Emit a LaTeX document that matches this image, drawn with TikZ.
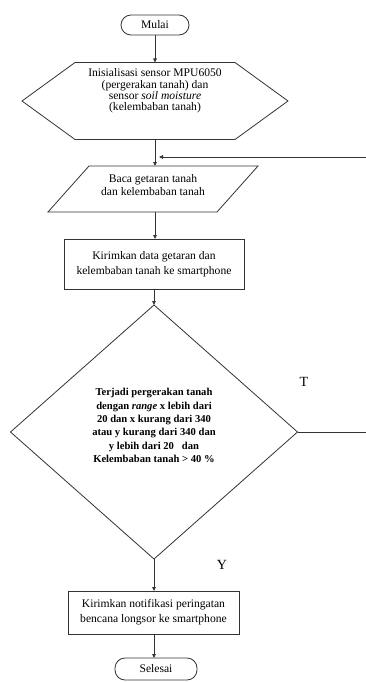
\documentclass[tikz,border=0pt]{standalone}
\usepackage{fontspec}
\setmainfont{Liberation Serif}
\usetikzlibrary{arrows.meta}
\begin{document}
\begin{tikzpicture}[x=1pt,y=-1pt,
  line/.style={draw=black!80, line width=0.8pt},
  arr/.style={line, -{Triangle[length=4pt,width=3.5pt]}},
  holder/.style={inner sep=0pt, outer sep=0pt},
  txt/.style={align=center, inner sep=0pt, font=\fontsize{11.6}{13}\selectfont},
  term/.style={line, rounded corners=10pt, inner sep=0pt, outer sep=0pt, align=center, font=\fontsize{11.6}{13}\selectfont},
  procbox/.style={line, inner sep=0pt, outer sep=0pt, align=center, font=\fontsize{11.6}{15}\selectfont},
  lbl/.style={font=\fontsize{14}{16}\selectfont, inner sep=0pt}
]
\useasboundingbox[fill=white] (0,0) rectangle (366,682);

% terminal start
\node[term, minimum width=68pt, minimum height=20pt] (start) at (155,25) {Mulai};

% hexagon (preparation)
\node[holder, minimum width=266pt, minimum height=77pt] (hex) at (155,101) {};
\draw[line] ([xshift=53pt]hex.north west) -- ([xshift=-53pt]hex.north east) -- (hex.east)
  -- ([xshift=-53pt]hex.south east) -- ([xshift=53pt]hex.south west) -- (hex.west) -- cycle;
\node[txt, font=\fontsize{11.6}{11.2}\selectfont] (hextxt) at (155,91)
  {Inisialisasi sensor MPU6050\\(pergerakan tanah) dan\\sensor \textit{soil moisture}\\(kelembaban tanah)};

% parallelogram (input)
\node[holder, minimum width=210pt, minimum height=46pt] (par) at (153,189) {};
\draw[line] ([xshift=41pt]par.north west) -- (par.north east) -- ([xshift=-41pt]par.south east)
  -- (par.south west) -- cycle;
\node[txt] (partxt) at (153,185.5) {Baca getaran tanah\\dan kelembaban tanah};

% process 1
\node[procbox, minimum width=180pt, minimum height=50pt] (send) at (154,264)
  {Kirimkan data getaran dan\\kelembaban tanah ke smartphone};

% decision
\node[holder, minimum width=287pt, minimum height=254pt] (dia) at (154,432) {};
\draw[line] (dia.north) -- (dia.east) -- (dia.south) -- (dia.west) -- cycle;
\node[txt, font=\bfseries\fontsize{10.6}{13.4}\selectfont] (diatxt) at (154,425.5)
  {Terjadi pergerakan tanah\\dengan \textit{range} x lebih dari\\20 dan x kurang dari 340\\atau y kurang dari 340 dan\\y lebih dari 20~~~dan\\Kelembaban tanah > 40 \%};

% process 2
\node[procbox, minimum width=171pt, minimum height=43pt] (notif) at (153.5,612.5)
  {Kirimkan notifikasi peringatan\\bencana longsor ke smartphone};

% terminal end
\node[term, minimum width=82pt, minimum height=22pt] (stop) at (156,669) {Selesai};

% labels
\node[lbl] (tlab) at (304,382) {T};
\node[lbl] (ylab) at (222,565) {Y};

% connectors
\draw[arr] (start.south) -- (hex.north -| start.south);
\draw[arr] (hex.south) -- (hex.south |- par.north);
\draw[arr] (par.south -| hex.south) -- (hex.south |- send.north);
\draw[arr] (send.south) -- (dia.north);
\draw[arr] (dia.south) -- (dia.south |- notif.north);
\draw[arr] (notif.south -| dia.south) -- (dia.south |- stop.north);

\coordinate (fb) at (159,157);
\coordinate (rx) at (367,157);
\draw[arr] (dia.east) -| (rx) -- (fb);
\end{tikzpicture}
\end{document}
